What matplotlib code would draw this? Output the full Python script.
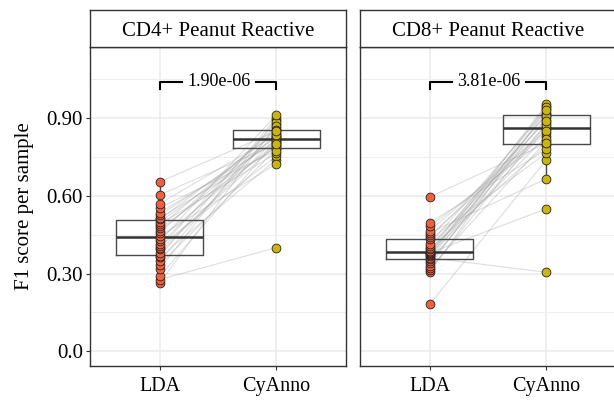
import numpy as np
import matplotlib
matplotlib.use('Agg')
import matplotlib.pyplot as plt

plt.rcParams['font.family'] = ['Liberation Serif', 'DejaVu Serif']

methods = ['LDA', 'CyAnno']
panels = ['CD4+ Peanut Reactive', 'CD8+ Peanut Reactive']
pvalues = ['1.90e-06', '3.81e-06']

# paired F1 scores, one entry per sample
lda_cd4 = [0.264, 0.277, 0.290, 0.318, 0.335, 0.350, 0.363, 0.367, 0.380, 0.393,
           0.400, 0.406, 0.415, 0.425, 0.435, 0.445, 0.457, 0.465, 0.475, 0.483,
           0.490, 0.500, 0.509, 0.515, 0.525, 0.535, 0.554, 0.570, 0.604, 0.654]
cya_cd4 = [0.876, 0.400, 0.812, 0.895, 0.780, 0.862, 0.740, 0.901, 0.822, 0.797,
           0.885, 0.753, 0.840, 0.912, 0.804, 0.724, 0.870, 0.830, 0.791, 0.856,
           0.765, 0.816, 0.845, 0.785, 0.826, 0.808, 0.775, 0.835, 0.800, 0.850]

lda_cd8 = [0.182, 0.305, 0.312, 0.322, 0.330, 0.341, 0.350, 0.356, 0.361, 0.366,
           0.372, 0.376, 0.380, 0.381, 0.383, 0.388, 0.395, 0.400, 0.406, 0.415,
           0.432, 0.440, 0.448, 0.458, 0.466, 0.483, 0.496, 0.596]
cya_cd8 = [0.738, 0.936, 0.880, 0.811, 0.948, 0.903, 0.860, 0.922, 0.305, 0.953,
           0.830, 0.895, 0.550, 0.916, 0.866, 0.942, 0.795, 0.910, 0.872, 0.930,
           0.765, 0.888, 0.843, 0.666, 0.852, 0.820, 0.780, 0.803]

data = [(lda_cd4, cya_cd4), (lda_cd8, cya_cd8)]
colors = ['#F0603F', '#CDB40C']
dark = '#333333'

fig = plt.figure(figsize=(6.14, 4.0), dpi=100)

W, H = 614.0, 400.0
lefts = [90, 360]
pw = 256
ptop, pbot = 47, 366
stop = 10

for i, (lda, cya) in enumerate(data):
    ax = fig.add_axes([lefts[i] / W, (H - pbot) / H, pw / W, (pbot - ptop) / H])

    # paired lines
    for a, b in zip(lda, cya):
        ax.plot([1, 2], [a, b], color='#A0A0A0', alpha=0.35, lw=0.8, zorder=1)

    ax.boxplot([lda, cya], positions=[1, 2], widths=0.75, showfliers=False,
               showcaps=False, manage_ticks=False,
               boxprops=dict(color='#4a4a4a', lw=1.0),
               whiskerprops=dict(color='#4a4a4a', lw=1.0),
               medianprops=dict(color=dark, lw=1.8), zorder=2)

    for j, vals in enumerate([lda, cya]):
        ax.scatter(np.full(len(vals), j + 1), vals, s=40, color=colors[j],
                   edgecolor='#222222', linewidth=0.6, zorder=3)

    # significance bracket
    yb, yt = 1.014, 1.04
    ax.plot([1, 1, 1.19], [yb, yt, yt], color='black', lw=1.5, zorder=4)
    ax.plot([1.83, 2, 2], [yt, yt, yb], color='black', lw=1.5, zorder=4)
    ax.text(1.51, yt, pvalues[i], ha='center', va='center', fontsize=13, zorder=4)

    ax.set_xlim(0.4, 2.6)
    ax.set_ylim(-0.057, 1.175)
    ax.set_xticks([1, 2], methods, fontsize=14.5)
    ax.set_yticks([0.0, 0.30, 0.60, 0.90])
    ax.set_yticks([0.15, 0.45, 0.75, 1.05], minor=True)
    ax.grid(True, which='major', color='#EBEBEB', lw=1.1, zorder=0)
    ax.grid(True, which='minor', axis='y', color='#EFEFEF', lw=0.8, zorder=0)
    ax.set_axisbelow(True)
    for s in ax.spines.values():
        s.set_color(dark)
        s.set_linewidth(1.0)

    ax.tick_params(axis='x', length=3, color=dark, pad=5)
    ax.tick_params(which='minor', length=0)
    if i == 0:
        ax.set_yticklabels(['0.0', '0.30', '0.60', '0.90'], fontsize=15)
        ax.tick_params(axis='y', length=3, color=dark, pad=2)
        ax.set_ylabel('F1 score per sample', fontsize=15, labelpad=9)
    else:
        ax.tick_params(axis='y', length=0, labelleft=False)

    # facet strip
    st = fig.add_axes([lefts[i] / W, (H - ptop) / H, pw / W, (ptop - stop) / H])
    st.set_xticks([])
    st.set_yticks([])
    st.set_facecolor('white')
    for s in st.spines.values():
        s.set_color(dark)
        s.set_linewidth(1.0)
    st.text(0.5, 0.42, panels[i], ha='center', va='center', fontsize=15,
            transform=st.transAxes)

fig.savefig('out.png', dpi=100)
